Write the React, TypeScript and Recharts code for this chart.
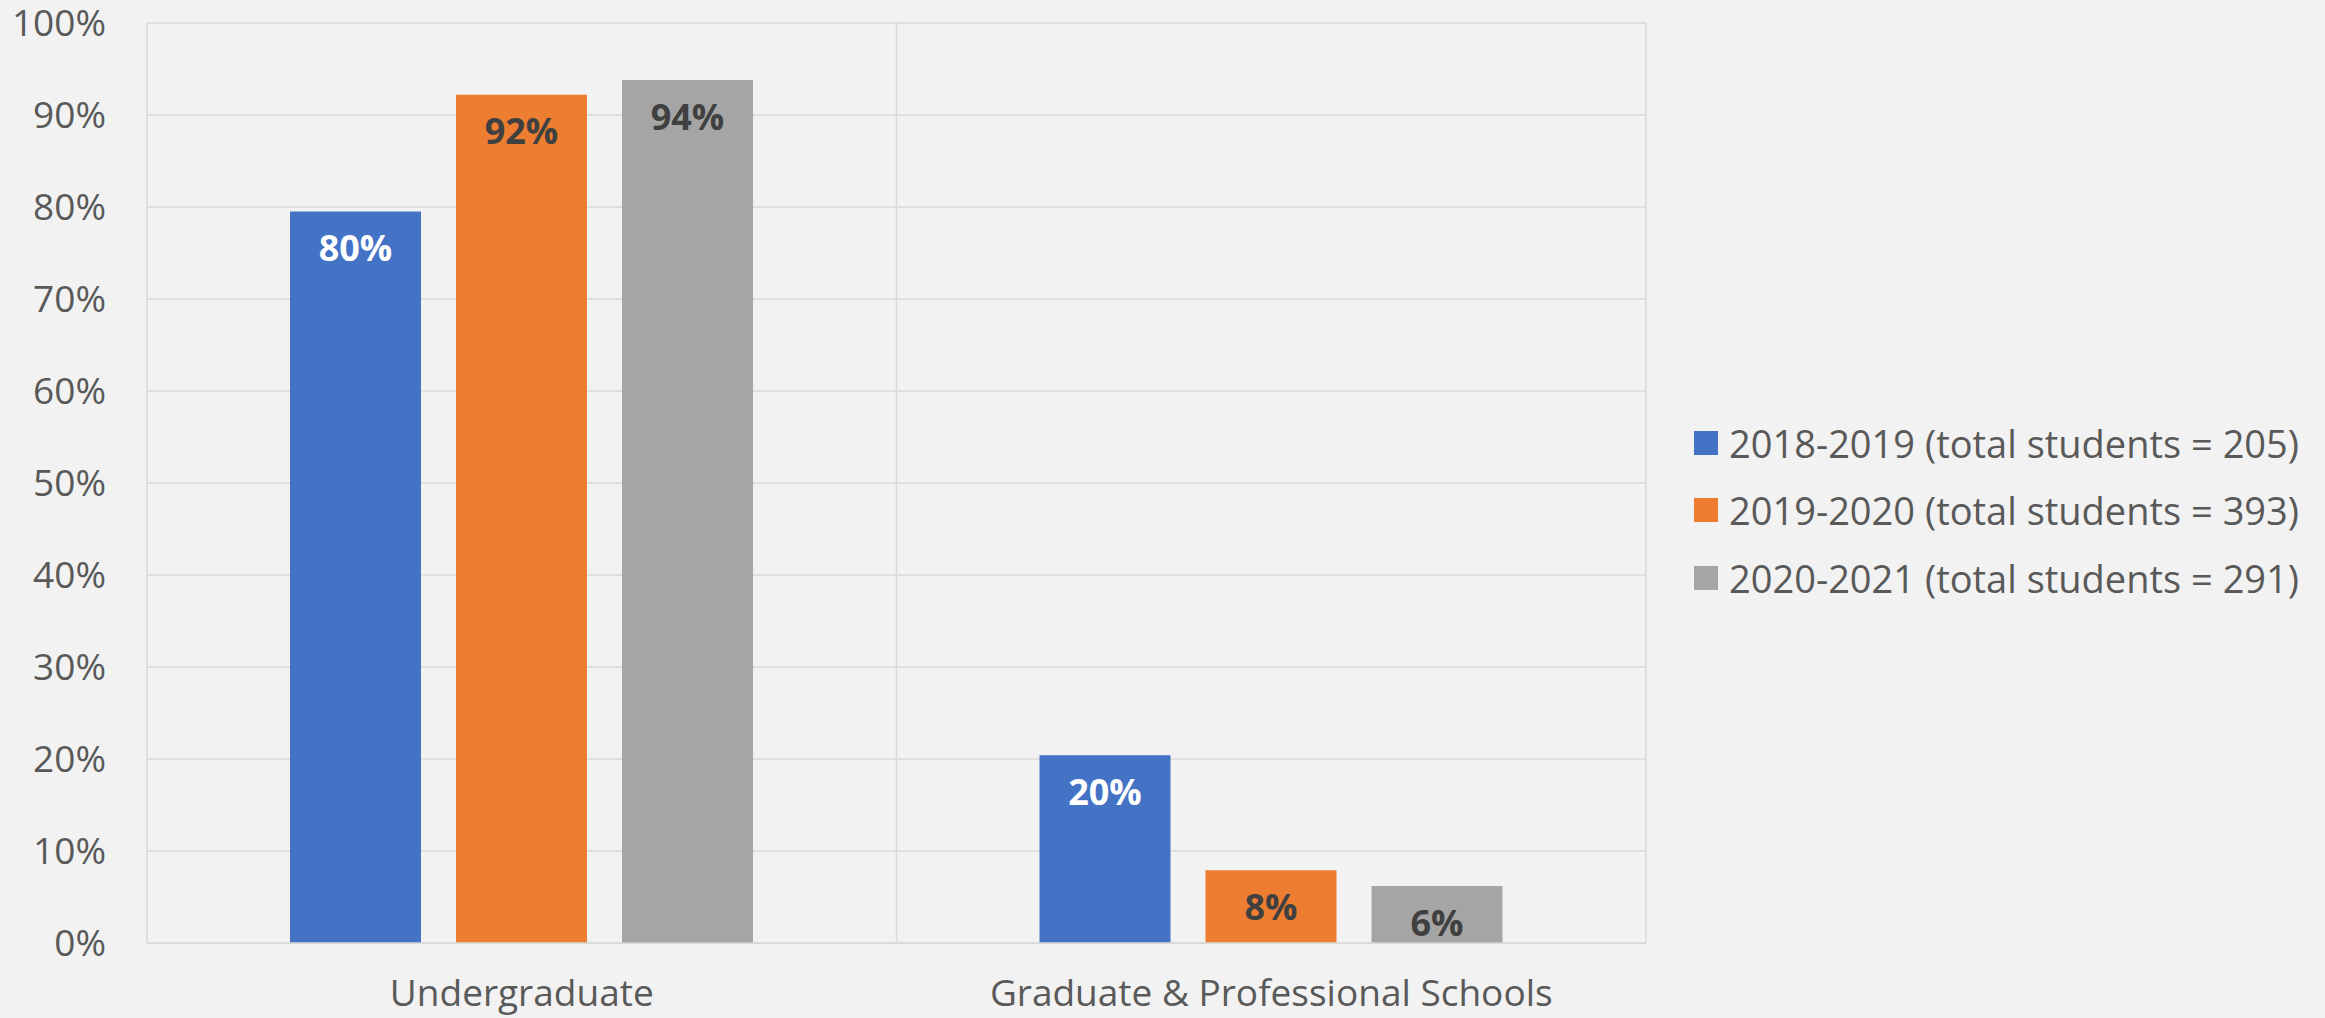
import React from 'react';
import { BarChart, Bar, XAxis, YAxis, CartesianGrid, Legend, LabelList } from 'recharts';

const categories = ['Undergraduate', 'Graduate & Professional Schools'];
const values2018 = [79.5, 20.4];
const values2019 = [92.2, 7.9];
const values2020 = [93.8, 6.2];
const seriesNames = [
  '2018-2019 (total students = 205)',
  '2019-2020 (total students = 393)',
  '2020-2021 (total students = 291)',
];
const seriesColors = ['#4472C4', '#ED7D31', '#A5A5A5'];
const labelColors = ['#FFFFFF', '#404040', '#404040'];
const yTicks = [0, 10, 20, 30, 40, 50, 60, 70, 80, 90, 100];

const data = categories.map((c, i) => ({
  category: c,
  s0: values2018[i],
  s1: values2019[i],
  s2: values2020[i],
}));

const FONT = '"Open Sans", sans-serif';
const TEXT = '#595959';
const GRID = '#D9D9D9';

const LegendContent = (props: any) => {
  const payload = props.payload || [];
  return (
    <div style={{ fontFamily: FONT, fontSize: 38, color: TEXT }}>
      {payload.map((p: any, i: number) => (
        <div key={i} style={{ display: 'flex', alignItems: 'center', height: 67.5, whiteSpace: 'nowrap' }}>
          <div style={{ width: 24, height: 24, background: p.color, marginRight: 11 }} />
          <span>{p.value}</span>
        </div>
      ))}
    </div>
  );
};

export default function App() {
  return (
    <div style={{ position: 'absolute', left: 0, top: 0, width: 2325, height: 1018, background: '#F2F2F2' }}>
      <BarChart
        width={2325}
        height={1018}
        data={data}
        margin={{ top: 23, right: 679, bottom: 0, left: 0 }}
        barGap={35}
      >
        <CartesianGrid
          stroke={GRID}
          strokeWidth={1.5}
          verticalCoordinatesGenerator={({ offset }: any) => [
            offset.left,
            offset.left + offset.width / 2,
            offset.left + offset.width,
          ]}
        />
        <XAxis
          dataKey="category"
          height={75}
          axisLine={{ stroke: GRID, strokeWidth: 1.5 }}
          tickLine={false}
          tickSize={0}
          tickMargin={37}
          tick={{ fill: TEXT, fontSize: 37, fontFamily: FONT }}
        />
        <YAxis
          width={147}
          domain={[0, 100]}
          ticks={yTicks}
          interval={0}
          axisLine={false}
          tickLine={false}
          tickSize={0}
          tickMargin={41}
          tickFormatter={(v: number) => `${v}%`}
          tick={{ fill: TEXT, fontSize: 37, fontFamily: FONT }}
        />
        <Legend
          layout="horizontal"
          align="center"
          verticalAlign="middle"
          content={<LegendContent />}
          wrapperStyle={{ left: 1694, top: 409, width: 620 }}
        />
        {['s0', 's1', 's2'].map((key, i) => (
          <Bar
            key={key}
            dataKey={key}
            name={seriesNames[i]}
            fill={seriesColors[i]}
            barSize={131}
            isAnimationActive={false}
          >
            <LabelList
              dataKey={key}
              position="insideTop"
              offset={24}
              formatter={(v: any) => `${Math.round(Number(v))}%`}
              style={{ fill: labelColors[i], fontSize: 36, fontWeight: 700, fontFamily: FONT }}
            />
          </Bar>
        ))}
      </BarChart>
    </div>
  );
}
